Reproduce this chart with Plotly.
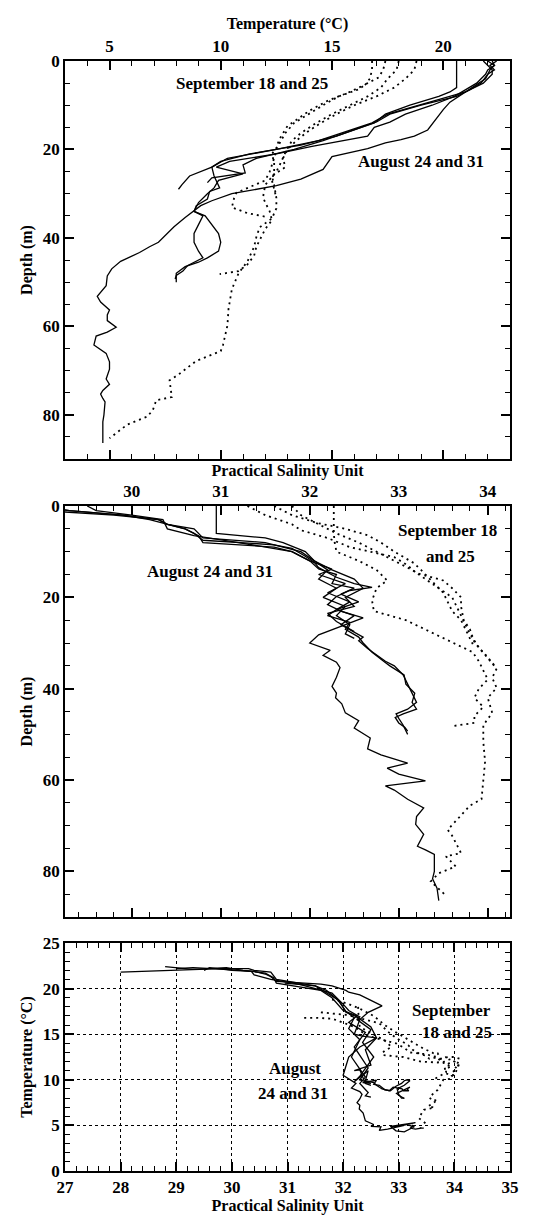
import plotly.graph_objects as go

# ---------------- August 24 and 31 profiles (solid) ----------------
aug1_depth = [0, 1, 2, 3, 4, 5, 7, 8, 10, 12, 14, 16, 18, 20, 22, 24, 26, 28, 29]
aug1_temp = [21.8, 22.0, 22.2, 22.2, 22.0, 21.8, 21.0, 20.3, 18.8, 17.5, 16.8, 15.6, 14.4, 12.5, 10.3, 9.6, 8.6, 8.25, 8.1]
aug1_sal = [28.0, 29.0, 29.8, 30.3, 30.4, 30.7, 30.8, 31.5, 31.9, 32.05, 32.2, 32.1, 32.3, 32.15, 32.4, 32.3, 32.45, 32.4, 32.5]

aug2_depth = [0, 2, 4, 6, 7, 8, 10, 12, 14, 16, 18, 20, 22, 23.5, 25.3, 26.4, 27.5]
aug2_temp = [20.6, 20.6, 20.6, 20.6, 20.3, 19.8, 18.5, 17.4, 16.9, 15.8, 14.6, 13.3, 11.6, 11.0, 11.1, 9.6, 9.4]
aug2_sal = [30.95, 30.95, 30.95, 30.95, 31.5, 31.7, 31.95, 32.05, 32.25, 32.5, 32.6, 32.4, 32.5, 32.2, 32.3, 32.4, 32.5]

aug3_depth = [0, 1, 2, 3, 5, 6.5, 8, 9, 10, 12, 13.8, 15, 17, 19, 21, 22.7, 24, 26, 28.7, 29.5, 31.2, 32.7,
              34, 35, 37, 39, 41, 43, 44.5, 45.5, 46.5, 48, 50]
aug3_temp = [22.4, 22.1, 22.3, 22.0, 21.7, 21.2, 20.6, 19.8, 19.0, 17.6, 17.0, 16.3, 15.2, 13.6, 11.3, 10.0, 9.6,
             9.7, 9.95, 9.5, 9.4, 8.9, 8.8, 9.3, 9.6, 9.9, 10.0, 9.9, 9.4, 9.0, 8.4, 8.0, 8.0]
aug3_sal = [28.8, 29.3, 29.9, 30.2, 30.6, 30.75, 30.8, 31.6, 31.8, 32.0, 32.25, 32.1, 32.4, 32.2, 32.45, 32.3, 32.5,
            32.35, 32.6, 32.55, 32.65, 32.75, 32.85, 32.95, 33.05, 33.1, 33.15, 33.2, 33.1, 32.97, 33.0, 33.05, 33.1]

aug4_depth = [0, 1, 2, 3, 5, 6.5, 8, 10, 12, 13.8, 15, 17, 18, 19.3, 21, 22.7, 24, 25.5, 27, 28.7, 30, 32, 34,
              35, 37, 39, 41, 43, 44.5, 45.5, 46.3, 47.5, 48.5, 49.3]
aug4_temp = [22.0, 22.3, 22.0, 21.9, 21.5, 21.0, 20.5, 19.5, 18.3, 17.6, 16.9, 16.6, 15.5, 14.1, 12.5, 10.4, 9.8,
             11.0, 9.9, 9.7, 9.4, 9.0, 8.8, 9.2, 9.0, 8.8, 8.8, 9.0, 9.2, 8.8, 8.5, 8.3, 8.0, 7.95]
aug4_sal = [29.5, 29.6, 30.0, 30.35, 30.4, 30.7, 31.2, 31.8, 32.0, 32.1, 32.3, 32.25, 32.5, 32.35, 32.55, 32.3,
            32.2, 32.45, 32.4, 32.55, 32.6, 32.7, 32.83, 32.9, 33.06, 33.08, 33.18, 33.15, 33.2, 33.05, 32.96,
            33.0, 33.07, 33.1]

aug5_depth = [0, 1, 2, 3, 4, 5, 6, 7.5, 8.5, 9.3, 11, 12.3, 13.5, 15.6, 17, 17.8, 18.5, 19.8, 21.6, 23, 24.5,
              26.7, 28.2, 30, 31.6, 32.7, 34.2, 35.4, 37.5, 39.5, 41, 42, 43.3, 45.3, 47, 48.6, 50.8, 53.2,
              54.5, 56.3, 57.4, 58.7, 60.2, 61.3, 62.2, 64.2, 66.1, 68, 69.7, 71.9, 73.1, 74.5, 75.3, 76.3,
              77.1, 80, 81.6, 83.7, 86.4]
aug5_temp = [22.2, 22.3, 22.1, 22.0, 21.9, 21.6, 21.3, 20.8, 20.5, 20.3, 20.0, 19.8, 19.6, 19.3, 18.7, 18.1,
             17.4, 16.6, 15.0, 14.8, 14.6, 13.6, 12.5, 10.5, 9.6, 9.1, 8.7, 8.4, 7.9, 7.5, 7.2, 6.8, 6.35, 5.5,
             5.1, 4.9, 4.85, 4.45, 4.6, 5.0, 4.9, 4.9, 5.3, 4.9, 4.4, 4.3, 4.85, 5.0, 5.0, 4.85, 5.0, 4.7, 4.6,
             4.7, 4.8, 4.75, 4.7, 4.7, 4.7]
aug5_sal = [29.0, 29.3, 29.9, 30.3, 30.4, 30.6, 30.7, 30.8, 31.6, 31.8, 31.95, 32.05, 32.1, 32.3, 32.5, 32.7,
            32.45, 32.3, 32.2, 32.35, 32.6, 32.3, 32.1, 32.0, 32.23, 32.15, 32.3, 32.34, 32.3, 32.25, 32.3, 32.29,
            32.36, 32.4, 32.55, 32.5, 32.68, 32.65, 32.8, 33.1, 32.87, 33.0, 33.3, 32.85, 32.95, 33.1, 33.28,
            33.2, 33.19, 33.28, 33.25, 33.21, 33.3, 33.4, 33.4, 33.4, 33.38, 33.43, 33.45]

# ---------------- September 18 and 25 profiles (dotted) ----------------
sep1_depth = [0, 2, 4, 6, 8, 10, 12, 14, 16, 18, 20, 22, 24, 26, 28, 31, 33.3, 35.6, 37.6, 39.8, 42, 45.3, 48,
              51.6, 56, 59.8, 64.2, 65.6, 67.8, 70.9, 72.2, 76, 76.7, 78.9, 80.4, 82.2, 85.3]
sep1_temp = [18.8, 18.7, 18.3, 17.8, 17.0, 16.0, 15.2, 14.5, 13.9, 13.4, 13.0, 12.8, 12.9, 12.3, 12.4, 12.5,
             12.5, 12.3, 11.75, 11.6, 11.5, 11.2, 10.8, 10.5, 10.35, 10.3, 10.1, 10.0, 8.9, 8.1, 7.7, 7.8, 7.1,
             6.95, 6.7, 5.8, 5.0]
sep1_sal = [31.8, 31.9, 32.1, 32.3, 32.55, 32.75, 32.95, 33.15, 33.3, 33.45, 33.6, 33.65, 33.7, 33.75, 33.8,
            33.9, 34.0, 34.1, 34.05, 34.1, 34.0, 34.05, 33.95, 33.95, 33.97, 33.95, 33.93, 33.8, 33.7, 33.55,
            33.6, 33.7, 33.53, 33.64, 33.45, 33.36, 33.53]

sep2_depth = [0, 2, 4, 5.3, 7, 9, 11.2, 13, 14.7, 16.3, 18, 20, 22, 25, 27, 29.8, 31, 33.1, 34.4, 35.3]
sep2_temp = [16.8, 16.8, 16.7, 16.5, 15.8, 14.8, 14.0, 13.5, 13.0, 12.8, 12.6, 12.5, 12.4, 12.2, 12.0, 10.7,
             10.6, 10.5, 11.2, 12.1]
sep2_sal = [31.3, 31.5, 31.8, 31.9, 32.2, 32.45, 32.95, 33.1, 33.2, 33.5, 33.6, 33.7, 33.7, 33.73, 33.8, 33.85,
            33.9, 34.0, 34.05, 34.1]

sep3_depth = [0, 2, 4, 6, 8, 10, 12, 14, 16.3, 18, 20.7, 23, 25, 28, 30.8, 32, 34, 36, 38, 40, 42, 44, 46,
              47.5, 48.2]
sep3_temp = [18.0, 17.9, 17.5, 17.2, 16.6, 15.8, 15.0, 14.3, 13.6, 13.2, 12.9, 12.7, 12.5, 12.0, 11.9, 12.0,
             12.2, 12.3, 12.0, 11.8, 11.6, 11.5, 11.2, 10.8, 9.95]
sep3_sal = [32.27, 32.27, 32.27, 32.27, 32.28, 32.3, 32.55, 32.75, 32.87, 32.75, 32.7, 32.72, 33.08, 33.4,
            33.69, 33.83, 33.9, 33.95, 34.0, 33.9, 33.85, 33.95, 33.85, 33.85, 33.6]

sep4_depth = [0, 2, 3.7, 5, 6.4, 8, 10, 12.5, 14, 16.3, 19, 21, 23, 25, 27, 29, 31]
sep4_temp = [17.4, 17.3, 17.1, 16.6, 16.2, 15.3, 14.6, 13.8, 13.3, 12.9, 12.6, 12.3, 12.4, 12.4, 12.3, 12.4, 12.5]
sep4_sal = [31.6, 31.8, 32.08, 32.4, 32.65, 32.8, 32.95, 33.17, 33.25, 33.36, 33.5, 33.55, 33.6, 33.7, 33.75,
            33.8, 33.85]

# axis tick labels
temp_ticks = [5, 10, 15, 20]
depth_ticks = [0, 20, 40, 60, 80]
sal_ticks_top = [30, 31, 32, 33, 34]
sal_ticks_bottom = [27, 28, 29, 30, 31, 32, 33, 34, 35]
ts_temp_ticks = [0, 5, 10, 15, 20, 25]

august = [(aug1_depth, aug1_temp, aug1_sal), (aug2_depth, aug2_temp, aug2_sal),
          (aug3_depth, aug3_temp, aug3_sal), (aug4_depth, aug4_temp, aug4_sal),
          (aug5_depth, aug5_temp, aug5_sal)]
september = [(sep1_depth, sep1_temp, sep1_sal), (sep2_depth, sep2_temp, sep2_sal),
             (sep3_depth, sep3_temp, sep3_sal), (sep4_depth, sep4_temp, sep4_sal)]

SOLID = dict(color="black", width=1.3)
DOTTED = dict(color="black", width=1.8, dash="2px,4px")

fig = go.Figure()
for group, style in ((september, DOTTED), (august, SOLID)):
    for d, t, s in group:
        fig.add_trace(go.Scatter(x=t, y=d, mode="lines", line=style, xaxis="x", yaxis="y",
                                 showlegend=False, hoverinfo="skip"))
        fig.add_trace(go.Scatter(x=s, y=d, mode="lines", line=style, xaxis="x2", yaxis="y2",
                                 showlegend=False, hoverinfo="skip"))
        fig.add_trace(go.Scatter(x=s, y=t, mode="lines", line=style, xaxis="x3", yaxis="y3",
                                 showlegend=False, hoverinfo="skip"))

FONT = "Liberation Serif"
tickfont = dict(family=FONT, size=17, color="black", weight=700)
titlefont = dict(family=FONT, size=16, color="black", weight=700)
MINOR = dict(ticklen=5, ticks="inside", tickcolor="black", tickwidth=1.2, showgrid=False)


def bold(vals):
    return [f"<b>{v}</b>" for v in vals]


def ax(**kw):
    base = dict(showline=True, linecolor="black", linewidth=1.5, mirror="ticks", ticks="inside",
                ticklen=9, tickwidth=1.5, tickcolor="black", tickfont=tickfont, showgrid=False,
                zeroline=False, automargin=False, tickmode="array")
    base.update(kw)
    return base


# page body adds an 8px offset, so the figure is 8px smaller than the window
fig.update_layout(
    width=546, height=1207,
    margin=dict(l=57, r=44, t=53, b=44),
    paper_bgcolor="white", plot_bgcolor="white",
    font=dict(family=FONT, color="black"),
    xaxis=ax(domain=[0, 1], anchor="y", side="top", range=[3, 23], tickvals=temp_ticks,
             ticktext=bold(temp_ticks),
             minor=dict(dtick=1, tick0=0, **MINOR),
             title=dict(text="<b>Temperature (°C)</b>", font=titlefont, standoff=4)),
    yaxis=ax(domain=[0.6414, 1.0], anchor="x", range=[90, 0], tickvals=depth_ticks,
             ticktext=bold(depth_ticks),
             minor=dict(dtick=5, tick0=0, **MINOR),
             title=dict(text="<b>Depth (m)</b>", font=titlefont, standoff=6)),
    xaxis2=ax(domain=[0, 1], anchor="y2", side="top", range=[29.25, 34.25], tickvals=sal_ticks_top,
              ticktext=bold(sal_ticks_top),
              minor=dict(dtick=0.2, tick0=29, **MINOR),
              title=dict(text="<b>Practical Salinity Unit</b>", font=titlefont, standoff=2)),
    yaxis2=ax(domain=[0.2288, 0.5991], anchor="x2", range=[90, 0], tickvals=depth_ticks,
              ticktext=bold(depth_ticks),
              minor=dict(dtick=5, tick0=0, **MINOR),
              title=dict(text="<b>Depth (m)</b>", font=titlefont, standoff=6)),
    xaxis3=ax(domain=[0, 1], anchor="y3", side="bottom", range=[27, 35], tickvals=sal_ticks_bottom,
              ticktext=bold(sal_ticks_bottom),
              showgrid=True, gridcolor="black", griddash="dot", gridwidth=1,
              minor=dict(dtick=0.2, tick0=27, **MINOR),
              title=dict(text="<b>Practical Salinity Unit</b>", font=titlefont, standoff=0)),
    yaxis3=ax(domain=[0.0, 0.2054], anchor="x3", range=[0, 25], tickvals=ts_temp_ticks,
              ticktext=bold(ts_temp_ticks),
              showgrid=True, gridcolor="black", griddash="dot", gridwidth=1,
              minor=dict(dtick=1, tick0=0, **MINOR),
              title=dict(text="<b>Temperature (°C)</b>", font=titlefont, standoff=6)),
)

annfont = dict(family=FONT, size=17, color="black", weight=700)
notes = [
    ("x", "y", 11.4, 5.0, "September 18 and 25"),
    ("x", "y", 19.0, 22.8, "August 24 and 31"),
    ("x2", "y2", 33.55, 5.3, "September 18"),
    ("x2", "y2", 33.58, 11.0, "and 25"),
    ("x2", "y2", 30.88, 14.3, "August 24 and 31"),
    ("x3", "y3", 33.95, 17.65, "September"),
    ("x3", "y3", 34.05, 15.2, "18 and 25"),
    ("x3", "y3", 31.13, 11.2, "August"),
    ("x3", "y3", 31.1, 8.55, "24 and 31"),
]
for xr, yr, xv, yv, txt in notes:
    fig.add_annotation(x=xv, y=yv, xref=xr, yref=yr, text=f"<b>{txt}</b>", showarrow=False, font=annfont)

fig.write_html("out.html")
